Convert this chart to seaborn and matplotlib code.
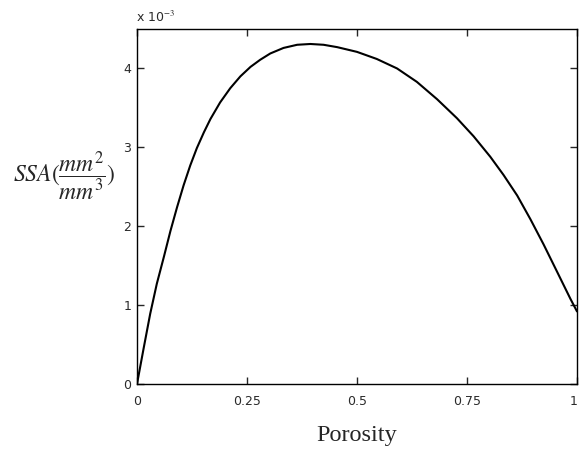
import matplotlib
matplotlib.use("Agg")
import matplotlib.pyplot as plt
import matplotlib.transforms as mtransforms
from matplotlib.ticker import FuncFormatter
import pandas as pd
import seaborn as sns

# Specific surface area as a function of porosity
porosity = [0.0, 0.015, 0.030, 0.045, 0.061, 0.076, 0.091, 0.106, 0.121, 0.136,
            0.152, 0.167, 0.189, 0.212, 0.235, 0.258, 0.280, 0.303, 0.333, 0.364,
            0.394, 0.424, 0.455, 0.485, 0.500, 0.545, 0.591, 0.636, 0.682, 0.727,
            0.765, 0.803, 0.833, 0.864, 0.894, 0.924, 0.955, 0.985, 1.0]
ssa = [0.0, 0.45e-3, 0.89e-3, 1.27e-3, 1.61e-3, 1.94e-3, 2.24e-3, 2.52e-3, 2.77e-3, 2.99e-3,
       3.19e-3, 3.36e-3, 3.57e-3, 3.75e-3, 3.90e-3, 4.02e-3, 4.11e-3, 4.19e-3, 4.26e-3, 4.30e-3,
       4.31e-3, 4.30e-3, 4.27e-3, 4.23e-3, 4.21e-3, 4.12e-3, 4.00e-3, 3.83e-3, 3.61e-3, 3.37e-3,
       3.14e-3, 2.88e-3, 2.65e-3, 2.39e-3, 2.09e-3, 1.77e-3, 1.42e-3, 1.08e-3, 0.92e-3]

x_ticks = [0, 0.25, 0.5, 0.75, 1]
x_tick_labels = ["0", "0.25", "0.5", "0.75", "1"]
y_ticks = [0, 1e-3, 2e-3, 3e-3, 4e-3]

df = pd.DataFrame({"Porosity": porosity, "SSA": ssa})

sns.set_style("ticks")
plt.rcParams["font.family"] = ["DejaVu Sans"]
plt.rcParams["mathtext.fontset"] = "stix"

fig = plt.figure(figsize=(5.79, 4.49), dpi=100)
ax = fig.add_axes([137 / 579, 1 - 384 / 449, 440 / 579, 355 / 449])

sns.lineplot(data=df, x="Porosity", y="SSA", ax=ax, color="black", linewidth=1.5)

ax.set_xlim(0, 1)
ax.set_ylim(0, 4.5e-3)
ax.set_xticks(x_ticks)
ax.set_xticklabels(x_tick_labels)
ax.set_yticks(y_ticks)
ax.yaxis.set_major_formatter(FuncFormatter(lambda v, _: f"{v * 1e3:g}"))

for side in ["left", "right", "top", "bottom"]:
    ax.spines[side].set_visible(True)
    ax.spines[side].set_linewidth(1.0)
    ax.spines[side].set_color("black")

ax.tick_params(direction="in", length=5, width=1.0, top=True, right=True,
               labelsize=9, labelcolor="#2a2a2a")
ax.tick_params(axis="x", pad=8)
ax.tick_params(axis="y", pad=4)

# keep the last x tick label inside the figure edge
last = ax.get_xticklabels()[-1]
last.set_transform(last.get_transform() +
                   mtransforms.ScaledTranslation(-3 / 100, 0, fig.dpi_scale_trans))

ax.set_xlabel("")
ax.set_ylabel("")

# Exponent marker above the y-axis
ax.text(-0.003, 1.012, r"x 10$^{-3}$", transform=ax.transAxes, fontsize=9,
        color="#2a2a2a", ha="left", va="bottom")

fig.text(357 / 579, 1 - 436 / 449, "Porosity", ha="center", va="center",
         fontsize=17.5, family=["Liberation Serif", "DejaVu Serif"])
fig.text(64 / 579, 1 - 176 / 449, r"$SSA(\dfrac{mm^2}{mm^3})$", ha="center",
         va="center", fontsize=17)

fig.savefig("out.png", dpi=100, facecolor="white")
